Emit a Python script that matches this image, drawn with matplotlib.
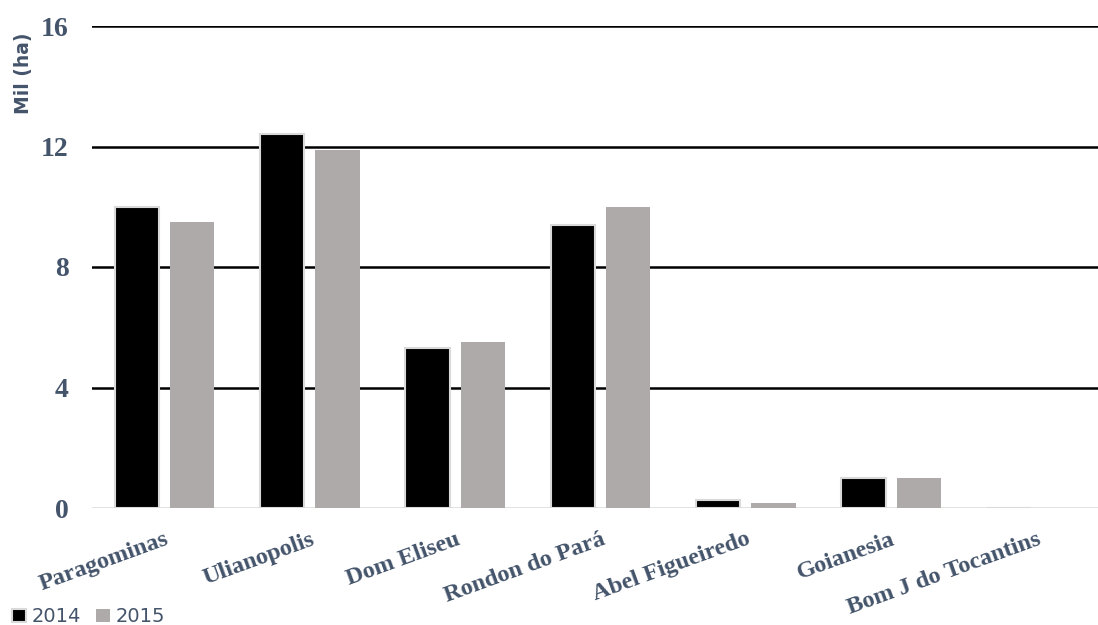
import matplotlib.pyplot as plt
import numpy as np

# dados
municipios = ['Paragominas', 'Ulianopolis', 'Dom Eliseu', 'Rondon do Pará',
              'Abel Figueiredo', 'Goianesia', 'Bom J do Tocantins']
v2014 = [10.0, 12.4, 5.3, 9.4, 0.25, 1.0, 0.0]
v2015 = [9.5, 11.9, 5.5, 10.0, 0.17, 1.0, 0.0]
anos = ['2014', '2015']
yticks = [0, 4, 8, 12, 16]

txt_cor = '#44546a'
serif = ['Liberation Serif', 'DejaVu Serif']

fig = plt.figure(figsize=(10.98, 6.25), dpi=100)
ax = fig.add_axes([0.0838, 0.1872, 0.9262, 0.7712])

x = np.arange(len(municipios))
w = 0.305
ax.bar(x - 0.19, v2014, w, color='black', edgecolor='#d9d9d9', linewidth=1.5, label=anos[0], zorder=3)
ax.bar(x + 0.19, v2015, w, color='#aeaaaa', edgecolor='none', label=anos[1], zorder=3)

ax.set_xlim(-0.5, len(municipios) - 0.5)
ax.set_ylim(0, 16)
ax.set_yticks(yticks)
for t in yticks[1:]:
    ax.axhline(t, color='black', lw=1.8, zorder=1)
ax.axhline(0, color='#d9d9d9', lw=1.8, zorder=2)
for s in ax.spines.values():
    s.set_visible(False)
ax.tick_params(axis='both', length=0)
ax.tick_params(axis='y', pad=17)

ax.set_yticklabels([str(t) for t in yticks], fontfamily=serif,
                   fontweight='bold', fontsize=20, color=txt_cor)
ax.set_xticks(x)
ax.set_xticklabels(municipios, rotation=20, ha='right', rotation_mode='anchor',
                   fontfamily=serif, fontweight='bold', fontsize=17.5, color=txt_cor)
ax.tick_params(axis='x', pad=15)

fig.text(0.021, 0.882, 'Mil (ha)', rotation=90, ha='center', va='center',
         fontsize=13.5, fontweight='bold', color=txt_cor, fontfamily='DejaVu Sans')

leg = fig.legend(loc='lower left', bbox_to_anchor=(-0.005, -0.03), ncol=2, frameon=False,
                 handlelength=0.7, handleheight=0.7, handletextpad=0.3, columnspacing=0.8,
                 prop={'family': 'DejaVu Sans', 'size': 14})
for t in leg.get_texts():
    t.set_color(txt_cor)

fig.savefig('out.png', dpi=100)
